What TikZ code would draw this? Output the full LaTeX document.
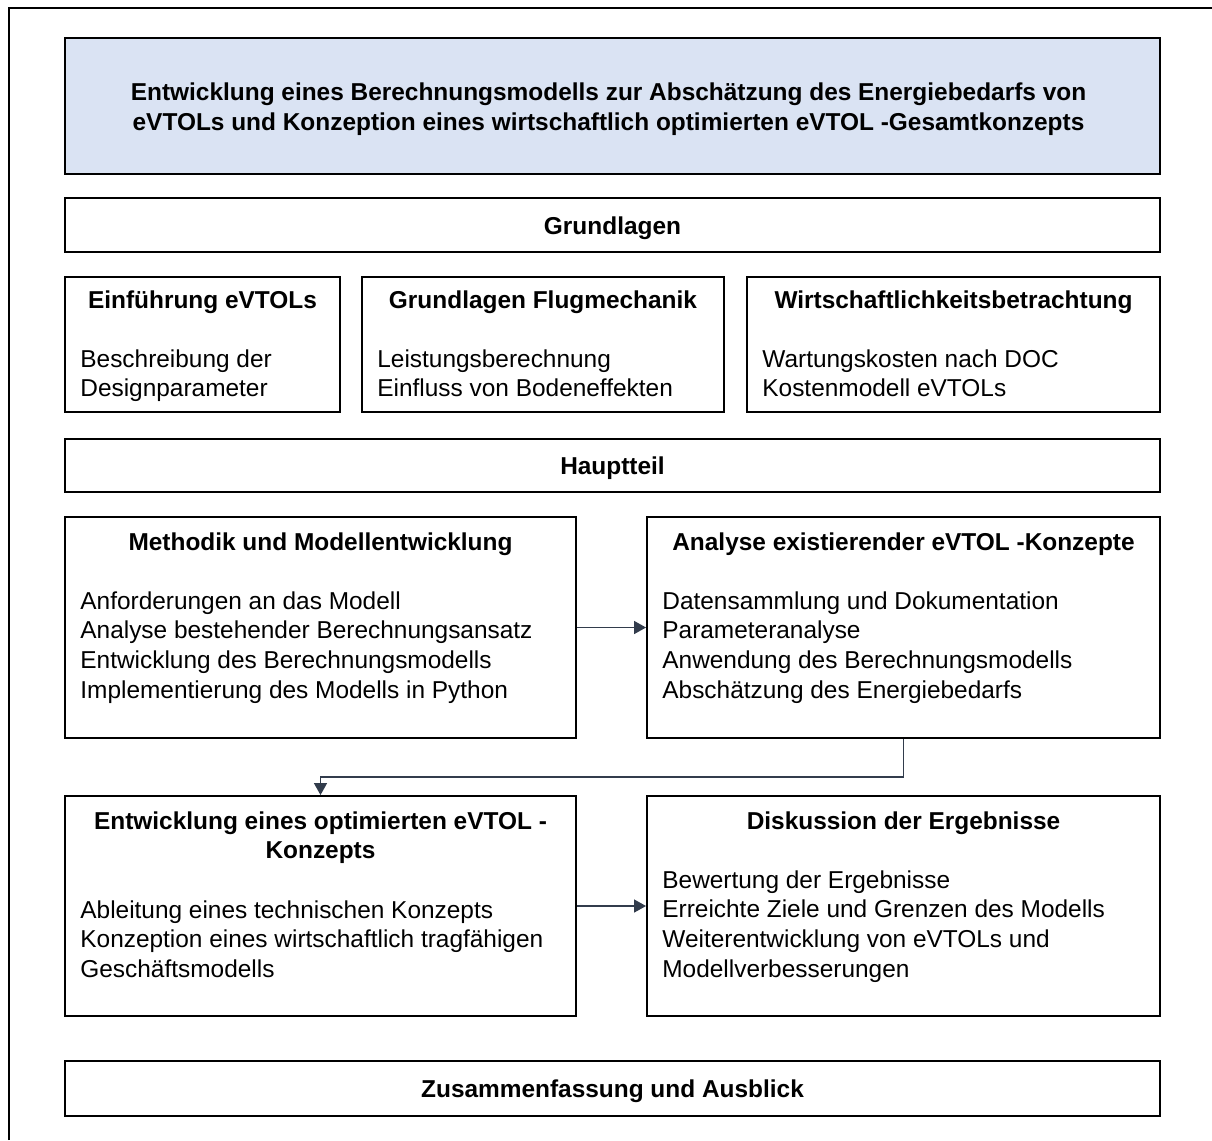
\documentclass[tikz,border=0pt]{standalone}
\usepackage{fontspec}
\setmainfont{Liberation Sans}
\usepackage{tikz}
\usetikzlibrary{arrows.meta,positioning,fit,calc}
\definecolor{titleblue}{RGB}{218,227,243}
\definecolor{linkgray}{RGB}{50,60,76}
\newcommand{\boxfont}{\fontsize{13.9pt}{17pt}\selectfont}

\begin{document}
\begin{tikzpicture}[x=0.02cm,y=-0.02cm,font=\boxfont,
  box/.style={draw,line width=1.1pt,inner sep=0pt},
  head/.style={anchor=north,align=center,inner sep=0pt,font=\boxfont\bfseries,execute at begin node=\strut},
  body/.style={anchor=north west,align=left,inner sep=0pt,execute at begin node=\strut},
  link/.style={linkgray,line width=0.7pt,-{Triangle[length=6.8pt,width=7.4pt]}}]
  \useasboundingbox (0,0) rectangle (1212,1140);
  % frame
  \draw[line width=1.1pt] (9,1140) -- (9,8) -- (1212,8);

  \node[box,fill=titleblue,fit={(65,38) (1160,174)}] (title) {};
  \node[align=center,inner sep=0pt,font=\boxfont\bfseries] (titletxt) at ($(title.center)+(-4,3)$)
    {Entwicklung eines Berechnungsmodells zur Abschätzung des Energiebedarfs von\\
     eVTOLs und Konzeption eines wirtschaftlich optimierten eVTOL -Gesamtkonzepts};

  \node[box,fit={(65,198) (1160,252)}] (grund) {};
  \node[font=\boxfont\bfseries] (grundtxt) at ($(grund.center)+(0,3)$) {Grundlagen};

  % Grundlagen
  \node[box,fit={(65,277) (340,412)}] (einf) {};
  \node[head] (einfh) at ($(einf.north)+(0,11.5)$) {Einführung eVTOLs};
  \node[body] (einfb) at ($(einf.north west)+(16,73)$) {Beschreibung der\\Designparameter};

  \node[box,fit={(362,277) (724,412)}] (flug) {};
  \node[head] (flugh) at ($(flug.north)+(0,11.5)$) {Grundlagen Flugmechanik};
  \node[body] (flugb) at ($(flug.north west)+(16,73)$) {Leistungsberechnung\\Einfluss von Bodeneffekten};

  \node[box,fit={(747,277) (1160,412)}] (wirt) {};
  \node[head] (wirth) at ($(wirt.north)+(0,11.5)$) {Wirtschaftlichkeitsbetrachtung};
  \node[body] (wirtb) at ($(wirt.north west)+(16,73)$) {Wartungskosten nach DOC\\Kostenmodell eVTOLs};

  \node[box,fit={(65,439) (1160,492)}] (haupt) {};
  \node[font=\boxfont\bfseries] (haupttxt) at ($(haupt.center)+(0,3)$) {Hauptteil};

  % Hauptteil
  \node[box,fit={(65,517) (576,738)}] (meth) {};
  \node[head] (methh) at ($(meth.north)+(0,13)$) {Methodik und Modellentwicklung};
  \node[body] (methb) at ($(meth.north west)+(16,75)$)
    {Anforderungen an das Modell\\Analyse bestehender Berechnungsansatz\\Entwicklung des Berechnungsmodells\\Implementierung des Modells in Python};

  \node[box,fit={(647,517) (1160,738)}] (anal) {};
  \node[head] (analh) at ($(anal.north)+(0,13)$) {Analyse existierender eVTOL -Konzepte};
  \node[body] (analb) at ($(anal.north west)+(16,75)$)
    {Datensammlung und Dokumentation\\Parameteranalyse\\Anwendung des Berechnungsmodells\\Abschätzung des Energiebedarfs};

  \node[box,fit={(65,796) (576,1016)}] (entw) {};
  \node[head] (entwh) at ($(entw.north)+(0,16)$) {Entwicklung eines optimierten eVTOL -\\Konzepts};
  \node[body] (entwb) at ($(entw.north west)+(16,105)$)
    {Ableitung eines technischen Konzepts\\Konzeption eines wirtschaftlich tragfähigen\\Geschäftsmodells};

  \node[box,fit={(647,796) (1160,1016)}] (disk) {};
  \node[head] (diskh) at ($(disk.north)+(0,13)$) {Diskussion der Ergebnisse};
  \node[body] (diskb) at ($(disk.north west)+(16,75)$)
    {Bewertung der Ergebnisse\\Erreichte Ziele und Grenzen des Modells\\Weiterentwicklung von eVTOLs und\\Modellverbesserungen};

  \node[box,fit={(65,1061) (1160,1116)}] (zusf) {};
  \node[font=\boxfont\bfseries] (zusftxt) at ($(zusf.center)+(0,3)$) {Zusammenfassung und Ausblick};

  \draw[link] (meth) -- (anal);
  \draw[link] (anal.south) -- ++(0,38) -| (entw.north);
  \draw[link] (entw) -- (disk);
\end{tikzpicture}
\end{document}
